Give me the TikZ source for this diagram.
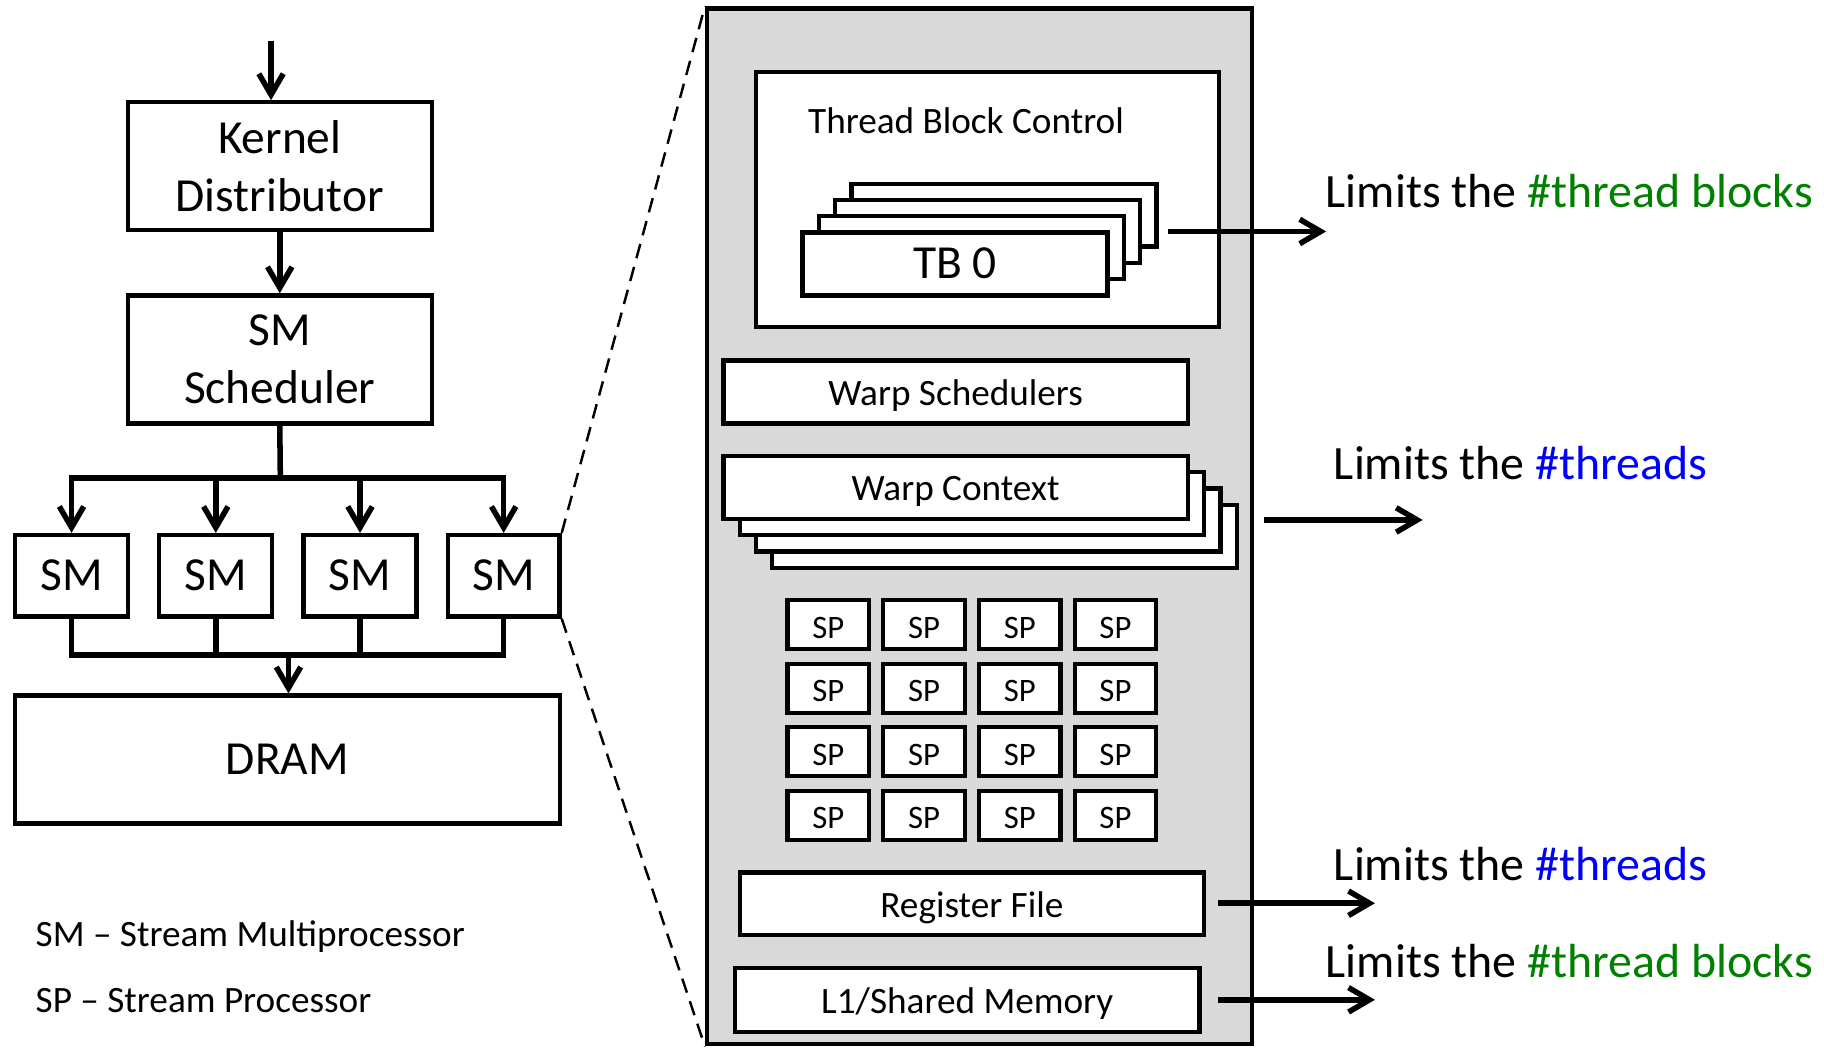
\documentclass[tikz,border=0pt]{standalone}
\usepackage{fontspec}
\setmainfont{Carlito}
\usetikzlibrary{arrows.meta}
\definecolor{smgray}{HTML}{D9D9D9}
\definecolor{limgreen}{HTML}{008000}
\definecolor{limblue}{HTML}{0000FF}
\begin{document}
\begin{tikzpicture}[x=0.01cm,y=-0.01cm,
        box/.style={draw,line width=1.05pt,fill=white,inner sep=0pt,align=center,
            font=\fontsize{11.6}{14.3}\selectfont},
        onebox/.style={box,text height=0.84em,text depth=0.12em},
        smallbox/.style={box,text height=0.78em,text depth=0.12em,
            font=\fontsize{9.1}{11}\selectfont},
        spbox/.style={smallbox,line width=1pt,minimum width=0.70cm,minimum height=0.42cm,
            font=\fontsize{8}{10}\selectfont},
        arr/.style={-{Straight Barb[length=1.8mm,width=2.1mm]},line width=1.35pt},
        zoomline/.style={dashed,line width=0.6pt,dash pattern=on 3.6pt off 2.2pt},
        limit/.style={anchor=west,inner sep=0pt,font=\fontsize{11.7}{14}\selectfont},
        legend/.style={anchor=west,inner sep=0pt,font=\fontsize{9.1}{11}\selectfont}]

\useasboundingbox (0,0) rectangle (1568,901);

% GPU side
\node[box,minimum width=2.61cm,minimum height=1.10cm] (kd) at (240.5,143) {Kernel\\Distributor};
\node[box,minimum width=2.61cm,minimum height=1.10cm] (sched) at (240.5,309) {SM\\Scheduler};
\node[onebox,minimum width=0.97cm,minimum height=0.70cm] (sm1) at (61.5,495) {SM};
\node[onebox,minimum width=0.97cm,minimum height=0.70cm] (sm2) at (185.5,495) {SM};
\node[onebox,minimum width=0.97cm,minimum height=0.70cm] (sm3) at (309.5,495) {SM};
\node[onebox,minimum width=0.96cm,minimum height=0.70cm] (sm4) at (433,495) {SM};
\node[onebox,minimum width=4.68cm,minimum height=1.10cm] (dram) at (247,653) {DRAM};

\coordinate (in) at (233,35);
\coordinate (bus1) at (241,411);
\coordinate (bus2) at (248,563);

\draw[arr] (in) -- (in |- kd.north);
\draw[arr] (kd) -- (sched);
\draw[line width=1.35pt] (sched.south) -- (bus1);
\draw[arr] (bus1) -| (sm1.north);
\draw[arr] (bus1) -| (sm4.north);
\draw[arr] (sm2.north |- bus1) -- (sm2.north);
\draw[arr] (sm3.north |- bus1) -- (sm3.north);
\draw[line width=1.35pt] (sm1.south) |- (bus2) -| (sm4.south);
\draw[line width=1.35pt] (sm2.south) -- (sm2.south |- bus2);
\draw[line width=1.35pt] (sm3.south) -- (sm3.south |- bus2);
\draw[arr] (bus2) -- (bus2 |- dram.north);

\node[legend] (lgsm) at (30,805) {SM – Stream Multiprocessor};
\node[legend] (lgsp) at (30,860) {SP – Stream Processor};

% SM detail
\node[draw,fill=smgray,line width=1.05pt,minimum width=4.68cm,minimum height=8.90cm] (smbig) at (842,452.5) {};
\draw[zoomline] (sm4.north east) -- (smbig.north west);
\draw[zoomline] (sm4.south east) -- (smbig.south west);

\node[box,minimum width=3.98cm,minimum height=2.19cm] (tbc) at (849,171.5) {};
\node[anchor=west,inner sep=0pt,font=\fontsize{9.1}{11}\selectfont] (tbclabel) at (694,104) {Thread Block Control};
\foreach \k in {3,2,1}
    \node[box,minimum width=2.62cm,minimum height=0.54cm] (tb\k) at (821+14*\k,227-14*\k) {};
\node[onebox,minimum width=2.62cm,minimum height=0.54cm] (tb0) at (821,227) {TB 0};

\node[smallbox,minimum width=3.99cm,minimum height=0.54cm] (wsched) at (821.5,337) {Warp Schedulers};
\foreach \k in {3,2,1}
    \node[smallbox,minimum width=3.99cm,minimum height=0.54cm] (wc\k) at (821.5+14*\k,419+14*\k) {};
\node[smallbox,minimum width=3.99cm,minimum height=0.54cm] (wc0) at (821.5,419) {Warp Context};

\foreach \r in {0,...,3}
    \foreach \c in {0,...,3}
        \node[spbox] (sp-\r-\c) at (712+82.3*\c,537+54.6*\r) {SP};

\node[smallbox,minimum width=3.99cm,minimum height=0.54cm] (reg) at (835.5,777) {Register File};
\node[smallbox,minimum width=3.99cm,minimum height=0.55cm] (l1) at (831.5,859.5) {L1/Shared Memory};

% limits
\node[limit] (limtb) at (1139,164) {Limits the \textcolor{limgreen}{\#thread blocks}};
\node[limit] (limwc) at (1146,398) {Limits the \textcolor{limblue}{\#threads}};
\node[limit] (limreg) at (1146,743) {Limits the \textcolor{limblue}{\#threads}};
\node[limit] (liml1) at (1139,826) {Limits the \textcolor{limgreen}{\#thread blocks}};

\coordinate (tbout) at (1004,199);
\coordinate (tbend) at (1140,199);
\coordinate (wcout) at (1087,447);
\coordinate (wcend) at (1223,447);
\coordinate (regend) at (1182,776.5);
\coordinate (l1end) at (1182,859.5);

\draw[arr] (tbout) -- (tbend);
\draw[arr] (wcout) -- (wcend);
\draw[arr] ([xshift=0.1cm]reg.east |- regend) -- (regend);
\draw[arr] ([xshift=0.14cm]l1.east |- l1end) -- (l1end);
\end{tikzpicture}
\end{document}
